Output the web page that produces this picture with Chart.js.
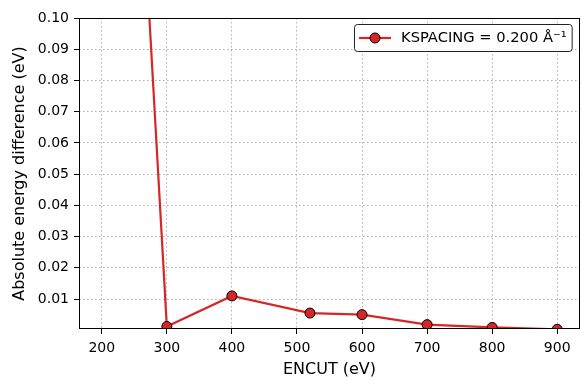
<!DOCTYPE html>
<html>
<head>
<meta charset="utf-8">
<script src="https://cdn.jsdelivr.net/npm/chart.js@4.4.0/dist/chart.umd.min.js"></script>
<style>
  html, body { margin: 0; padding: 0; background: #fff; }
  #wrap { width: 582px; height: 381px; }
</style>
</head>
<body>
<div id="wrap"><canvas id="chart" width="582" height="381"></canvas></div>
<script>
// --- datos de convergencia ---
const encut = [200, 300, 400, 520, 600, 700, 800, 900];
const energyDiff = [0.37, 0.0012, 0.0110, 0.0055, 0.0050, 0.0018, 0.0009, 0.0003];
const xTicks = [200, 300, 400, 500, 600, 700, 800, 900];
const yTicks = [0.01, 0.02, 0.03, 0.04, 0.05, 0.06, 0.07, 0.08, 0.09, 0.10];
const seriesLabel = 'KSPACING = 0.200 Å⁻¹';

const FONT = 'DejaVu Sans';
const RED = '#d62728';

Chart.defaults.font.family = FONT;
Chart.defaults.color = '#000';

// marco completo alrededor del área del gráfico
const framePlugin = {
  id: 'frame',
  afterDraw(chart) {
    const { ctx, chartArea: a } = chart;
    ctx.save();
    ctx.strokeStyle = '#000';
    ctx.lineWidth = 1;
    ctx.strokeRect(Math.round(a.left) + 0.5, Math.round(a.top) + 0.5,
      Math.round(a.right - a.left) - 1, Math.round(a.bottom - a.top) - 1);
    ctx.restore();
  }
};

// leyenda dentro del área, esquina superior derecha
const legendPlugin = {
  id: 'innerLegend',
  afterDraw(chart) {
    const { ctx, chartArea: a } = chart;
    const ds = chart.data.datasets[0];
    ctx.save();
    ctx.font = '14.7px ' + FONT;
    const tw = ctx.measureText(ds.label).width;
    const w = tw + 52, h = 27;
    const x = Math.round(a.right - 8 - w), y = Math.round(a.top + 6);
    ctx.beginPath();
    ctx.roundRect(x + 0.5, y + 0.5, w, h, 3);
    ctx.fillStyle = 'rgba(255,255,255,0.85)';
    ctx.fill();
    ctx.strokeStyle = '#222';
    ctx.lineWidth = 1;
    ctx.stroke();
    const cy = y + h / 2 + 0.5;
    ctx.beginPath();
    ctx.moveTo(x + 5, cy);
    ctx.lineTo(x + 37, cy);
    ctx.strokeStyle = ds.borderColor;
    ctx.lineWidth = ds.borderWidth;
    ctx.stroke();
    ctx.beginPath();
    ctx.arc(x + 21, cy, ds.pointRadius, 0, Math.PI * 2);
    ctx.fillStyle = ds.pointBackgroundColor;
    ctx.fill();
    ctx.strokeStyle = ds.pointBorderColor;
    ctx.lineWidth = 1;
    ctx.stroke();
    ctx.fillStyle = '#000';
    ctx.textBaseline = 'middle';
    ctx.fillText(ds.label, x + 47, cy);
    ctx.restore();
  }
};

const gridOpts = {
  color: '#a8a8a8',
  lineWidth: 0.9,
  tickColor: '#000',
  tickBorderDash: [],
  tickLength: 5,
  tickWidth: 1
};

new Chart(document.getElementById('chart'), {
  type: 'line',
  data: {
    datasets: [{
      label: seriesLabel,
      data: encut.map((e, i) => ({ x: e, y: energyDiff[i] })),
      borderColor: RED,
      borderWidth: 2.2,
      pointRadius: 5,
      pointBackgroundColor: RED,
      pointBorderColor: '#000',
      pointBorderWidth: 1,
      tension: 0
    }]
  },
  options: {
    responsive: false,
    animation: false,
    layout: { autoPadding: false, padding: { left: 0, right: 2, top: 18, bottom: 0 } },
    plugins: { legend: { display: false }, tooltip: { enabled: false } },
    scales: {
      x: {
        type: 'linear',
        min: 165,
        max: 935,
        afterBuildTicks: s => { s.ticks = xTicks.map(v => ({ value: v })); },
        afterFit: s => { s.height = 52; s.paddingLeft = 0; s.paddingRight = 0; },
        grid: gridOpts,
        border: { display: false, dash: [1.5, 2.5] },
        ticks: { font: { size: 14 }, padding: 6, color: '#000', maxRotation: 0 },
        title: { display: true, text: 'ENCUT (eV)', font: { size: 16 }, padding: { top: 0, bottom: 2 } }
      },
      y: {
        min: 0.0004,
        max: 0.1,
        afterBuildTicks: s => { s.ticks = yTicks.map(v => ({ value: v })); },
        afterFit: s => { s.width = 79; s.paddingTop = 0; s.paddingBottom = 0; },
        grid: gridOpts,
        border: { display: false, dash: [1.5, 2.5] },
        ticks: {
          font: { size: 14 },
          padding: 5,
          color: '#000',
          callback: v => v.toFixed(2)
        },
        title: { display: true, text: 'Absolute energy difference (eV)', font: { size: 16 }, padding: { top: 10, bottom: 0 } }
      }
    }
  },
  plugins: [framePlugin, legendPlugin]
});
</script>
</body>
</html>
